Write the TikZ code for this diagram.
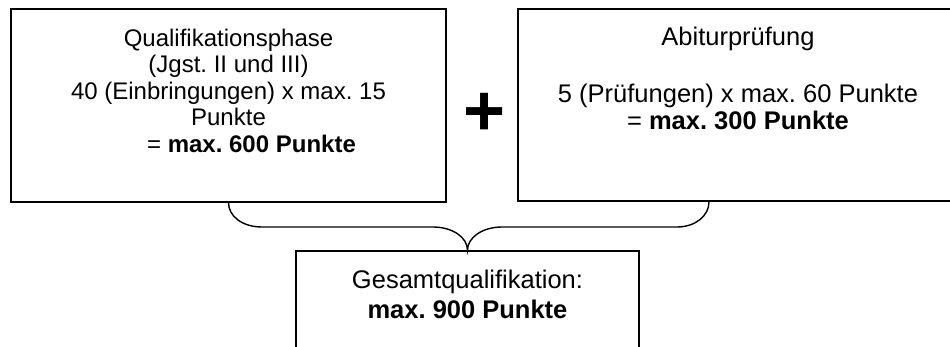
\documentclass[tikz,border=0pt]{standalone}
\usepackage{fontspec}
\setmainfont{Liberation Sans}
\usetikzlibrary{calc}
\frenchspacing
\tikzset{
  box/.style={draw, inner sep=0pt, line width=1.3pt},
  bracepath/.style={draw, line width=1.4pt}
}
\begin{document}
\begin{tikzpicture}[x=1pt,y=-1pt]
\useasboundingbox (0,0) rectangle (950,347);
\clip (0,0) rectangle (950,347);
\node[box] (Q) at (228.5,105.5) {\parbox[c][193pt][t]{435pt}{\centering\fontsize{24}{26.5}\selectfont
  \rule{0pt}{37.5pt}Qualifikationsphase\\
  (Jgst. II und III)\\
  40 (Einbringungen) x max. 15\\
  Punkte\\
  \hspace*{46pt}= \textbf{max. 600 Punkte}}};
\node[box] (A) at (738,105) {\parbox[c][192pt][t]{440pt}{\centering\fontsize{25.5}{27}\selectfont
  \rule{0pt}{37pt}Abiturprüfung\\[30pt]
  5 (Prüfungen) x max. 60 Punkte\\
  = \textbf{max. 300 Punkte}}};
\node[font=\fontsize{72}{80}\selectfont\bfseries, inner sep=0pt, anchor=base] (plus) at (485,135.5) {+};
\node[box] (G) at (467.5,325.5) {\parbox[c][149pt][t]{343pt}{\centering\fontsize{25.5}{30}\selectfont
  \rule{0pt}{37pt}Gesamtqualifikation:\\
  \textbf{max. 900 Punkte}}};
\coordinate (br) at (709,202);
\path[bracepath] (Q.south) .. controls (228.5,216) and (242,227) .. (262,227) -- (433,227)
  .. controls (452,227) and (467.5,237) .. (G.north)
  .. controls (467.5,237) and (483,227) .. (502,227) -- (677,227)
  .. controls (695,227) and (709,216) .. (br);
\end{tikzpicture}
\end{document}
